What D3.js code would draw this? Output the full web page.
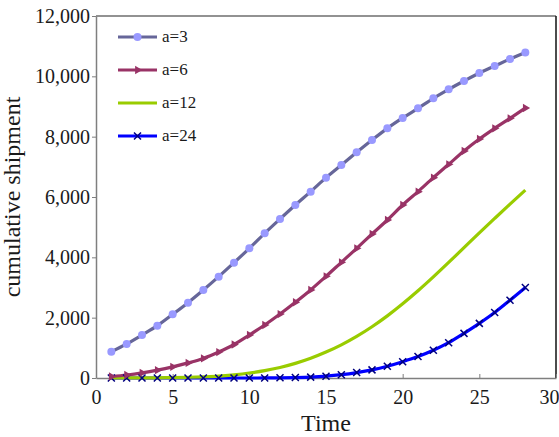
<!DOCTYPE html>
<html><head><meta charset="utf-8">
<script src="https://cdn.jsdelivr.net/npm/d3@7"></script>
<style>
body{margin:0;background:#fff}
</style></head>
<body><svg id="c" width="559" height="437"></svg>
<script>
const time = [1,2,3,4,5,6,7,8,9,10,11,12,13,14,15,16,17,18,19,20,21,22,23,24,25,26,27,28];
const a3  = [870,1130,1425,1735,2110,2497,2917,3359,3823,4298,4796,5270,5735,6177,6641,7061,7481,7889,8276,8620,8940,9271,9569,9845,10110,10342,10574,10790];
const a6  = [50,100,170,260,370,500,650,860,1110,1425,1757,2120,2510,2920,3370,3834,4298,4773,5237,5735,6177,6641,7083,7525,7922,8276,8608,8950];
const a12 = [0,1,3,7,14,24,38,60,105,165,245,350,485,655,860,1100,1380,1700,2060,2460,2890,3350,3830,4320,4810,5290,5765,6230];
const a24 = [0,0,0,0,0,0,0,0,0,0,2,6,14,30,60,110,180,270,390,540,710,920,1170,1480,1810,2170,2580,3000];
const seriesNames = ["a=3","a=6","a=12","a=24"];
const yTicks = [0,2000,4000,6000,8000,10000,12000];
const xTicks = [0,5,10,15,20,25,30];

const FONT = '"Liberation Serif","Times New Roman",serif';
const series = [
  {name:seriesNames[0], values:a3,  line:"#666699", mark:"#9999ff", sym:"circle"},
  {name:seriesNames[1], values:a6,  line:"#993366", mark:"#993366", sym:"tri"},
  {name:seriesNames[2], values:a12, line:"#99cc00", mark:null,      sym:null},
  {name:seriesNames[3], values:a24, line:"#0000ff", mark:"#000080", sym:"x"}
];

const svg = d3.select("#c");
const L=96, R=556, T=16, B=378;
const x = d3.scaleLinear().domain([0,30]).range([L,R]);
const y = d3.scaleLinear().domain([0,12000]).range([B,T]);

svg.append("line").attr("x1",L).attr("x2",R).attr("y1",T).attr("y2",T).attr("stroke","#6e6e6e").attr("stroke-width",1.5);
svg.append("line").attr("x1",R).attr("x2",R).attr("y1",T).attr("y2",B).attr("stroke","#111").attr("stroke-width",1.5);

const ya = svg.append("g").attr("transform",`translate(${L},0)`)
  .call(d3.axisLeft(y).tickValues(yTicks).tickFormat(d3.format(",")).tickSizeInner(4).tickSizeOuter(0).tickPadding(2));
const xa = svg.append("g").attr("transform",`translate(0,${B})`)
  .call(d3.axisBottom(x).tickValues(xTicks).tickSizeInner(-4).tickSizeOuter(0).tickPadding(12));
[ya,xa].forEach(g=>{
  g.attr("font-family",null).attr("font-size",null);
  g.select(".domain").attr("stroke","#7f7f7f").attr("stroke-width",1.5);
  g.selectAll(".tick line").attr("stroke","#7f7f7f");
  g.selectAll(".tick text").style("font-family",FONT).style("font-size","20px").attr("fill","#1a1a1a");
});
xa.selectAll(".tick text").filter(d=>d===30).attr("text-anchor","end").attr("dx",3);

svg.append("text").attr("x",326).attr("y",431).attr("text-anchor","middle")
  .style("font-family",FONT).style("font-size","24px").attr("fill","#1a1a1a").text("Time");
svg.append("text").attr("transform","translate(20,197) rotate(-90)").attr("text-anchor","middle")
  .style("font-family",FONT).style("font-size","24px").attr("fill","#1a1a1a").text("cumulative shipment");

const line = d3.line().x((d,i)=>x(time[i])).y(d=>y(d)).curve(d3.curveMonotoneX);

function marker(g, s, cx, cy){
  if(s.sym==="circle"){
    g.append("circle").attr("cx",cx).attr("cy",cy).attr("r",4).attr("fill",s.mark);
  } else if(s.sym==="tri"){
    g.append("path").attr("transform",`translate(${cx},${cy}) rotate(-30)`).attr("d",d3.symbol(d3.symbolTriangle,30)()).attr("fill",s.mark);
  } else if(s.sym==="x"){
    g.append("path").attr("d",`M${cx-3.5},${cy-3.5}L${cx+3.5},${cy+3.5}M${cx-3.5},${cy+3.5}L${cx+3.5},${cy-3.5}`).attr("stroke",s.mark).attr("stroke-width",1.5);
  }
}

const plot = svg.append("g");
series.slice().reverse().forEach(s=>{
  plot.append("path").datum(s.values).attr("d",line).attr("fill","none").attr("stroke",s.line).attr("stroke-width",3.2);
});
series.slice().reverse().forEach(s=>{
  if(!s.sym) return;
  const g = plot.append("g");
  s.values.forEach((v,i)=>marker(g,s,x(time[i]),y(v)));
});

const leg = svg.append("g");
series.forEach((s,i)=>{
  const ly = 37 + i*33;
  leg.append("line").attr("x1",118).attr("x2",157).attr("y1",ly).attr("y2",ly).attr("stroke",s.line).attr("stroke-width",3.2);
  if(s.sym) marker(leg,s,137.5,ly);
  leg.append("text").attr("x",162).attr("y",ly+5).style("font-family",FONT).style("font-size","17px").attr("fill","#1a1a1a").text(s.name);
});
</script></body></html>
